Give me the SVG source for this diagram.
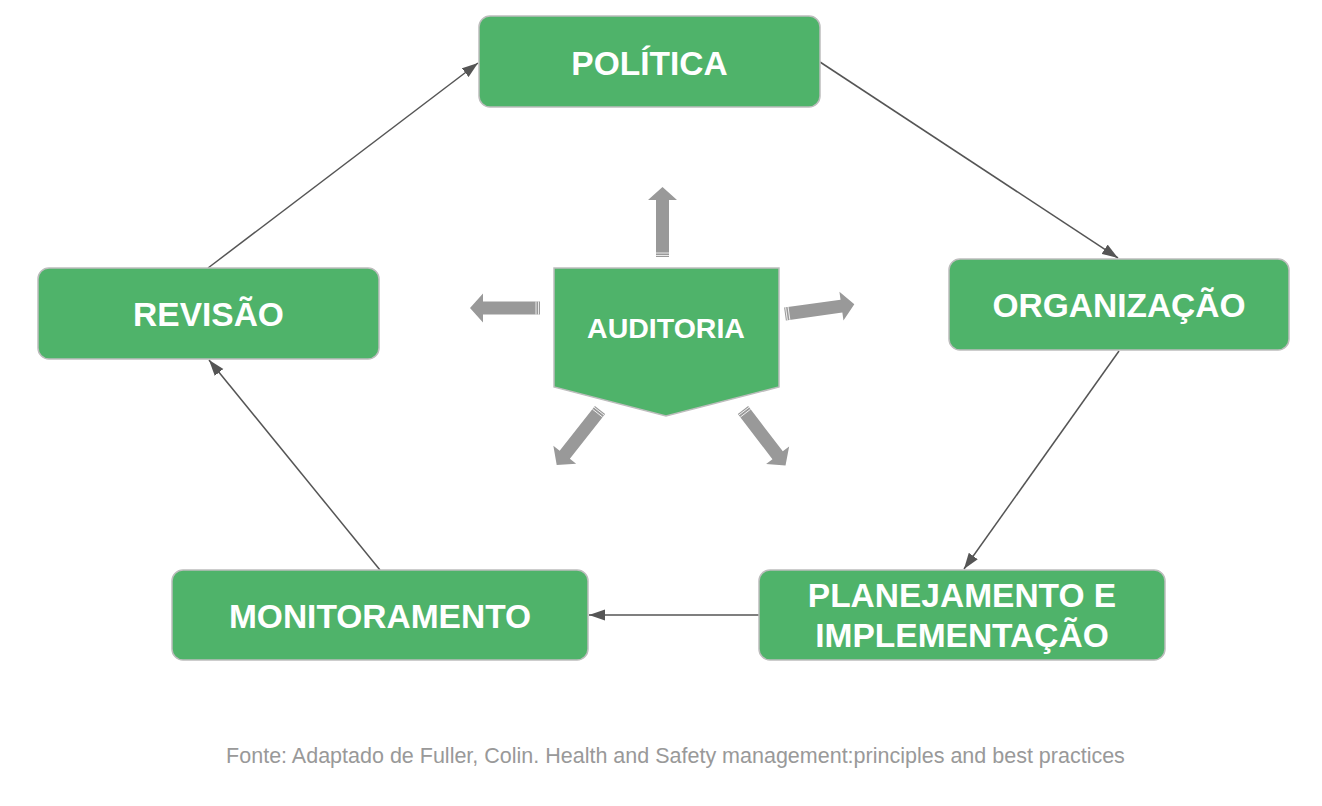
<svg xmlns="http://www.w3.org/2000/svg" xmlns:xlink="http://www.w3.org/1999/xlink" width="1322" height="806" viewBox="0 0 1322 806">
<style>
.box{fill:#4FB36A;stroke:#BDBDBD;stroke-width:1.5}
.lbl{fill:#fff;font-family:"Liberation Sans",Arial,sans-serif;font-weight:bold;font-size:33.5px;text-anchor:middle}
.con{stroke:#555;stroke-width:1.5;fill:none;marker-end:url(#ah)}
.blk{fill:#999}
.stripe{stroke:#fff;stroke-width:0.8}
.foot{fill:#999;font-family:"Liberation Sans",Arial,sans-serif;font-size:21.5px;text-anchor:middle}
</style>
<defs>
<marker id="ah" markerUnits="userSpaceOnUse" markerWidth="17" markerHeight="12" refX="16" refY="6" orient="auto">
<path d="M0,0.5 L16,6 L0,11.5 Z" fill="#555"/>
</marker>
<g id="blk">
<path class="blk" d="M0,-6.5 L57,-6.5 L57,-14.5 L70,0 L57,14.5 L57,6.5 L0,6.5 Z"/>
<line class="stripe" x1="1.5" y1="-6.5" x2="1.5" y2="6.5"/>
<line class="stripe" x1="4" y1="-6.5" x2="4" y2="6.5"/>
</g>
</defs>
<rect width="1322" height="806" fill="#fff"/>
<g id="connectors">
<line class="con" x1="820" y1="62" x2="1118" y2="258"/>
<line class="con" x1="1119" y1="351" x2="964" y2="569"/>
<line class="con" x1="759" y1="615" x2="589" y2="615"/>
<line class="con" x1="380" y1="570" x2="209" y2="360"/>
<line class="con" x1="208" y1="268" x2="478" y2="63"/>
</g>
<g id="politica">
<rect class="box" x="479" y="16" width="341" height="91" rx="11"/>
<text class="lbl" x="649.5" y="74.5">POLÍTICA</text>
</g>
<g id="organizacao">
<rect class="box" x="949" y="259" width="340" height="91" rx="11"/>
<text class="lbl" x="1119" y="316.5">ORGANIZAÇÃO</text>
</g>
<g id="planejamento">
<rect class="box" x="759" y="570" width="406" height="90" rx="11"/>
<text class="lbl" x="962" y="607">PLANEJAMENTO E</text>
<text class="lbl" x="962" y="647">IMPLEMENTAÇÃO</text>
</g>
<g id="monitoramento">
<rect class="box" x="172" y="570" width="416" height="90" rx="11"/>
<text class="lbl" x="380" y="627.5">MONITORAMENTO</text>
</g>
<g id="revisao">
<rect class="box" x="38" y="268" width="341" height="91" rx="11"/>
<text class="lbl" x="208.5" y="325.5">REVISÃO</text>
</g>
<g id="auditoria">
<path class="box" d="M554,268 L779,268 L779,387 L666,416 L554,387 Z"/>
<text class="lbl" x="666" y="338" style="font-size:28.5px">AUDITORIA</text>
<use xlink:href="#blk" transform="translate(662.5,257) rotate(-90)"/>
<use xlink:href="#blk" transform="translate(540,308) rotate(180)"/>
<use xlink:href="#blk" transform="translate(785,314) rotate(-8)"/>
<use xlink:href="#blk" transform="translate(600,410) rotate(128.2)"/>
<use xlink:href="#blk" transform="translate(743,410) rotate(52.6)"/>
</g>
<text class="foot" x="675.5" y="763">Fonte: Adaptado de Fuller, Colin. Health and Safety management:principles and best practices</text>
</svg>
